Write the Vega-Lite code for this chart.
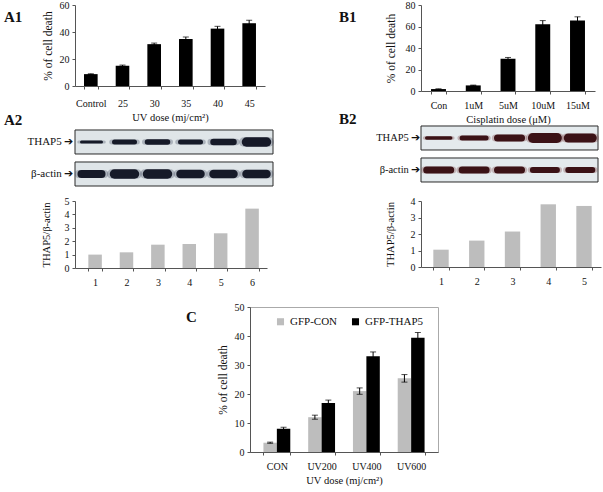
{
  "$schema": "https://vega.github.io/schema/vega-lite/v6.json",
  "background": "white",
  "padding": {"left": 4, "top": 0, "right": 2, "bottom": 2},
  "config": {
    "font": "Liberation Serif",
    "view": {"stroke": null},
    "axis": {
      "labelFont": "Liberation Serif", "titleFont": "Liberation Serif",
      "labelFontSize": 10, "titleFontSize": 10.5, "titleFontWeight": "normal",
      "labelColor": "#111", "titleColor": "#111",
      "domainColor": "#555", "tickColor": "#555",
      "grid": false, "tickSize": 3, "labelPadding": 3
    },
    "axisX": {"labelAngle": 0, "labelPadding": 6, "titlePadding": 4},
    "title": {"font": "Liberation Serif", "fontSize": 15, "fontWeight": "bold", "anchor": "start", "frame": "group", "offset": 0, "baseline": "alphabetic", "color": "#111"},
    "legend": {"labelFont": "Liberation Serif", "labelFontSize": 11, "labelColor": "#111"}
  },
  "spacing": 14,
  "resolve": {"scale": {"color": "independent"}},
  "vconcat": [
    {
      "spacing": 50,
      "hconcat": [
        {
          "spacing": 15,
          "bounds": "flush",
          "vconcat": [
            {
              "title": {"text": "A1", "dx": -71, "dy": 28.5},
              "width": 190, "height": 81,
              "data": {"values": [
                {"dose": "Control", "death": 8.8, "err": 0.3},
                {"dose": "25", "death": 15, "err": 0.5},
                {"dose": "30", "death": 31, "err": 0.8},
                {"dose": "35", "death": 34.8, "err": 1.5},
                {"dose": "40", "death": 42.5, "err": 1.7},
                {"dose": "45", "death": 46.5, "err": 2.2}
              ]},
              "encoding": {
                "x": {"field": "dose", "type": "nominal", "sort": null,
                      "scale": {"paddingInner": 0.57, "paddingOuter": 0.285},
                      "axis": {"title": "UV dose (mj/cm²)", "tickBand": "extent", "labelPadding": 9}},
                "y": {"field": "death", "type": "quantitative", "scale": {"domain": [0, 60]},
                      "axis": {"title": "% of cell death", "titleFontSize": 11.5, "values": [0, 20, 40, 60], "titlePadding": 6}}
              },
              "layer": [
                {"mark": {"type": "bar", "color": "#000"}},
                {"mark": {"type": "errorbar", "color": "#000", "ticks": {"size": 6}}, "encoding": {"yError": {"field": "err"}}}
              ]
            },
            {
              "title": {"text": "A2", "dx": -71, "dy": 30.5},
              "width": 198, "height": 85,
              "encoding": {
                "y": {"field": "protein", "type": "nominal", "sort": ["THAP5", "β-actin"],
                      "scale": {"type": "band", "paddingInner": 0.25, "paddingOuter": 0.453, "align": 1},
                      "axis": {"title": null, "domain": false, "ticks": false, "labelPadding": 2, "labelFontSize": 11, "labelExpr": "datum.value + ' ➔'"}}
              },
              "layer": [
                {
                  "data": {"values": [{"protein": "THAP5"}, {"protein": "β-actin"}]},
                  "mark": {"type": "rect", "fill": "#dfe5e8", "stroke": "#2a2a2a", "strokeWidth": 1}
                },
                {
                  "data": {"values": [
                    {"lane": 1, "protein": "THAP5", "intensity": 3},
                    {"lane": 2, "protein": "THAP5", "intensity": 5},
                    {"lane": 3, "protein": "THAP5", "intensity": 5.5},
                    {"lane": 4, "protein": "THAP5", "intensity": 5},
                    {"lane": 5, "protein": "THAP5", "intensity": 6.5},
                    {"lane": 6, "protein": "THAP5", "intensity": 9.5},
                    {"lane": 1, "protein": "β-actin", "intensity": 8},
                    {"lane": 2, "protein": "β-actin", "intensity": 9.5},
                    {"lane": 3, "protein": "β-actin", "intensity": 9.5},
                    {"lane": 4, "protein": "β-actin", "intensity": 8.5},
                    {"lane": 5, "protein": "β-actin", "intensity": 8.5},
                    {"lane": 6, "protein": "β-actin", "intensity": 8.5}
                  ]},
                  "encoding": {
                    "x": {"field": "lane", "type": "ordinal", "scale": {"type": "band", "paddingInner": 0, "paddingOuter": 0}, "axis": null},
                    "strokeWidth": {"field": "intensity", "type": "quantitative", "scale": {"domain": [0, 10], "range": [0, 10]}, "legend": null}
                  },
                  "layer": [
                    {"mark": {"type": "point", "shape": "M-1,0L1,0", "size": 650, "filled": false, "strokeCap": "round", "color": "#3a4258", "opacity": 0.3}},
                    {"mark": {"type": "point", "shape": "M-1,0L1,0", "size": 400, "filled": false, "strokeCap": "round", "color": "#161a28", "opacity": 1}}
                  ]
                }
              ]
            },
            {
              "width": 192, "height": 67,
              "data": {"values": [
                {"lane": 1, "ratio": 1.0},
                {"lane": 2, "ratio": 1.17},
                {"lane": 3, "ratio": 1.74},
                {"lane": 4, "ratio": 1.79},
                {"lane": 5, "ratio": 2.59},
                {"lane": 6, "ratio": 4.43}
              ]},
              "mark": {"type": "bar", "color": "#bdbdbd"},
              "encoding": {
                "x": {"field": "lane", "type": "ordinal",
                      "scale": {"paddingInner": 0.57, "paddingOuter": 0.3425, "align": 0.62},
                      "axis": {"title": null, "tickBand": "extent"}},
                "y": {"field": "ratio", "type": "quantitative", "scale": {"domain": [0, 5]},
                      "axis": {"title": "THAP5/β-actin", "values": [0, 1, 2, 3, 4, 5], "titlePadding": 13}}
              }
            }
          ]
        },
        {
          "spacing": 15,
          "bounds": "flush",
          "vconcat": [
            {
              "title": {"text": "B1", "dx": -82, "dy": 28.5},
              "width": 174, "height": 86,
              "data": {"values": [
                {"dose": "Con", "death": 1.8, "err": 0.2},
                {"dose": "1uM", "death": 5.2, "err": 0.3},
                {"dose": "5uM", "death": 30, "err": 1.2},
                {"dose": "10uM", "death": 62, "err": 3.5},
                {"dose": "15uM", "death": 65.5, "err": 3.5}
              ]},
              "encoding": {
                "x": {"field": "dose", "type": "nominal", "sort": null,
                      "scale": {"paddingInner": 0.57, "paddingOuter": 0.2885},
                      "axis": {"title": "Cisplatin dose (μM)", "tickBand": "extent"}},
                "y": {"field": "death", "type": "quantitative", "scale": {"domain": [0, 80]},
                      "axis": {"title": "% of cell death", "titleFontSize": 11.5, "values": [0, 20, 40, 60, 80], "titlePadding": 9}}
              },
              "layer": [
                {"mark": {"type": "bar", "color": "#000"}},
                {"mark": {"type": "errorbar", "color": "#000", "ticks": {"size": 6}}, "encoding": {"yError": {"field": "err"}}}
              ]
            },
            {
              "title": {"text": "B2", "dx": -82, "dy": 24.5},
              "width": 177, "height": 80,
              "encoding": {
                "y": {"field": "protein", "type": "nominal", "sort": ["THAP5", "β-actin"],
                      "scale": {"type": "band", "paddingInner": 0.25, "paddingOuter": 0.375, "align": 0.8333},
                      "axis": {"title": null, "domain": false, "ticks": false, "labelPadding": 1, "labelFontSize": 10.5, "labelExpr": "datum.value + '  ➔'"}}
              },
              "layer": [
                {
                  "data": {"values": [{"protein": "THAP5"}, {"protein": "β-actin"}]},
                  "mark": {"type": "rect", "fill": "#e4eaed", "stroke": "#2a2a2a", "strokeWidth": 1}
                },
                {
                  "data": {"values": [
                    {"lane": 1, "protein": "THAP5", "intensity": 3.5},
                    {"lane": 2, "protein": "THAP5", "intensity": 5},
                    {"lane": 3, "protein": "THAP5", "intensity": 7},
                    {"lane": 4, "protein": "THAP5", "intensity": 10},
                    {"lane": 5, "protein": "THAP5", "intensity": 9},
                    {"lane": 1, "protein": "β-actin", "intensity": 7},
                    {"lane": 2, "protein": "β-actin", "intensity": 7},
                    {"lane": 3, "protein": "β-actin", "intensity": 7},
                    {"lane": 4, "protein": "β-actin", "intensity": 6},
                    {"lane": 5, "protein": "β-actin", "intensity": 6}
                  ]},
                  "encoding": {
                    "x": {"field": "lane", "type": "ordinal", "scale": {"type": "band", "paddingInner": 0, "paddingOuter": 0}, "axis": null},
                    "strokeWidth": {"field": "intensity", "type": "quantitative", "scale": {"domain": [0, 10], "range": [0, 10]}, "legend": null}
                  },
                  "layer": [
                    {"mark": {"type": "point", "shape": "M-1,0L1,0", "size": 800, "filled": false, "strokeCap": "round", "color": "#7a3a3e", "opacity": 0.3}},
                    {"mark": {"type": "point", "shape": "M-1,0L1,0", "size": 576, "filled": false, "strokeCap": "round", "color": "#3b1216", "opacity": 1}}
                  ]
                }
              ]
            },
            {
              "width": 180, "height": 66,
              "data": {"values": [
                {"lane": 1, "ratio": 1.05},
                {"lane": 2, "ratio": 1.6},
                {"lane": 3, "ratio": 2.15},
                {"lane": 4, "ratio": 3.8},
                {"lane": 5, "ratio": 3.7}
              ]},
              "mark": {"type": "bar", "color": "#bdbdbd"},
              "encoding": {
                "x": {"field": "lane", "type": "ordinal",
                      "scale": {"paddingInner": 0.57, "paddingOuter": 0.3025, "align": 0.57},
                      "axis": {"title": null, "tickBand": "extent"}},
                "y": {"field": "ratio", "type": "quantitative", "scale": {"domain": [0, 4]},
                      "axis": {"title": "THAP5/β-actin", "values": [0, 1, 2, 3, 4], "titlePadding": 15}}
              }
            }
          ]
        }
      ]
    },
    {
      "spacing": 0,
      "bounds": "flush",
      "resolve": {"scale": {"color": "independent"}},
      "hconcat": [
        {"width": 175, "height": 10, "data": {"values": []}, "mark": "point"},
        {
          "title": {"text": "C", "dx": -64, "dy": 27},
          "width": 188, "height": 145,
          "view": {"stroke": "#aaaaaa", "strokeWidth": 1},
          "data": {"values": [
            {"dose": "CON", "group": "GFP-CON", "death": 3.2, "err": 0.2},
            {"dose": "CON", "group": "GFP-THAP5", "death": 8.0, "err": 0.5},
            {"dose": "UV200", "group": "GFP-CON", "death": 12.0, "err": 0.7},
            {"dose": "UV200", "group": "GFP-THAP5", "death": 16.9, "err": 1.0},
            {"dose": "UV400", "group": "GFP-CON", "death": 21.0, "err": 1.1},
            {"dose": "UV400", "group": "GFP-THAP5", "death": 33.0, "err": 1.5},
            {"dose": "UV600", "group": "GFP-CON", "death": 25.4, "err": 1.3},
            {"dose": "UV600", "group": "GFP-THAP5", "death": 39.4, "err": 1.8}
          ]},
          "encoding": {
            "x": {"field": "dose", "type": "nominal", "sort": null,
                  "scale": {"paddingInner": 0.4, "paddingOuter": 0.3},
                  "axis": {"title": "UV dose (mj/cm²)", "tickBand": "extent"}},
            "xOffset": {"field": "group", "type": "nominal", "sort": ["GFP-CON", "GFP-THAP5"], "scale": {"paddingInner": 0, "paddingOuter": 0}},
            "y": {"field": "death", "type": "quantitative", "scale": {"domain": [0, 50]},
                  "axis": {"title": "% of cell death", "titleFontSize": 11.5, "values": [0, 10, 20, 30, 40, 50], "titlePadding": 6}}
          },
          "layer": [
            {
              "mark": "bar",
              "encoding": {
                "color": {"field": "group", "type": "nominal",
                          "scale": {"domain": ["GFP-CON", "GFP-THAP5"], "range": ["#bdbdbd", "#000000"]},
                          "legend": {"title": null, "orient": "none", "legendX": 25, "legendY": 9, "direction": "horizontal", "symbolType": "square", "symbolSize": 50, "columnPadding": 12, "symbolStrokeWidth": 0}}
              }
            },
            {"mark": {"type": "errorbar", "color": "#000", "ticks": {"size": 6}}, "encoding": {"yError": {"field": "err"}}}
          ]
        }
      ]
    }
  ]
}
